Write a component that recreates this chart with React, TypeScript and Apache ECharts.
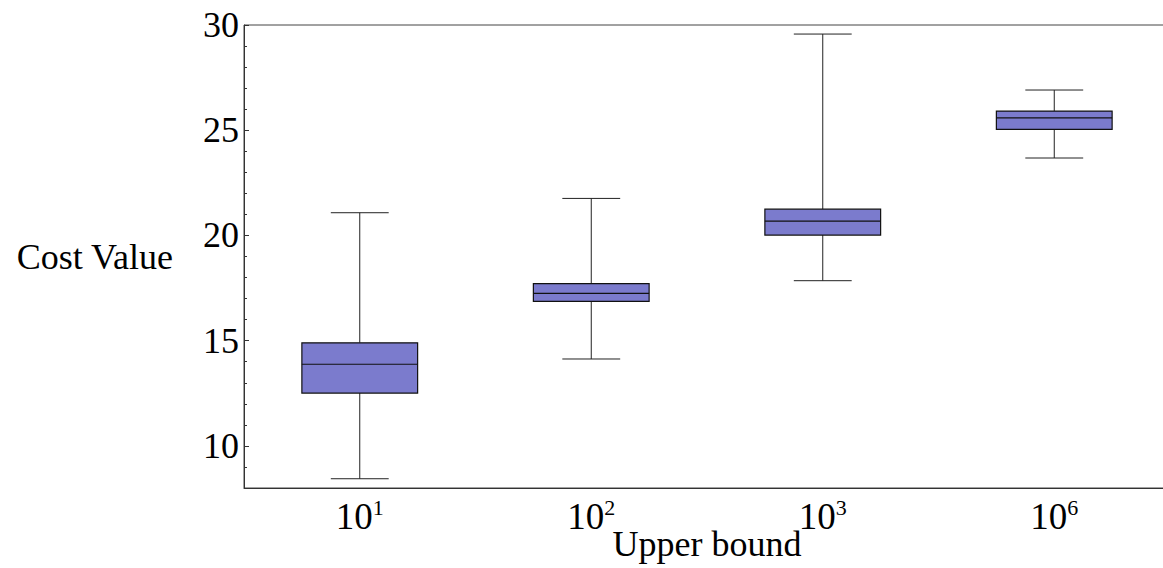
import React, { useEffect, useRef } from "react";
import * as echarts from "echarts";

const categories = ["10^1", "10^2", "10^3", "10^6"];
const exponents = ["1", "2", "3", "6"];
const lowWhisker = [8.44, 14.13, 17.85, 23.68];
const q1 = [12.51, 16.87, 20.02, 25.04];
const median = [13.88, 17.25, 20.68, 25.59];
const q3 = [14.9, 17.71, 21.25, 25.91];
const highWhisker = [21.08, 21.76, 29.57, 26.91];

const FONT = '"Liberation Serif", "Times New Roman", serif';

export default function App() {
  const ref = useRef<HTMLDivElement>(null);
  useEffect(() => {
    if (!ref.current) return;
    const chart = echarts.init(ref.current, undefined, { renderer: "svg" });
    const data = categories.map((_, i) => [i, lowWhisker[i], q1[i], median[i], q3[i], highWhisker[i]]);
    chart.setOption({
      animation: false,
      backgroundColor: "#ffffff",
      grid: {
        left: 244,
        top: 25,
        width: 926,
        height: 463,
        containLabel: false,
        outerBoundsMode: "none",
        show: true,
        borderColor: "#444",
        borderWidth: 1,
        backgroundColor: "transparent",
      },
      xAxis: {
        type: "category",
        data: categories,
        boundaryGap: true,
        name: "Upper bound",
        nameLocation: "middle",
        nameGap: 38,
        nameMoveOverlap: false,
        nameTextStyle: { fontFamily: FONT, fontSize: 36, color: "#000" },
        axisLine: { lineStyle: { color: "#333", width: 1 } },
        axisTick: { inside: true, length: 5, alignWithLabel: true, lineStyle: { color: "#333" } },
        axisLabel: {
          interval: 0,
          hideOverlap: false,
          margin: 8,
          fontFamily: FONT,
          fontSize: 37,
          color: "#000",
          formatter: (_v: string, i: number) => `{base|10}{sup|${exponents[i]}}`,
          rich: {
            base: { fontFamily: FONT, fontSize: 37, color: "#000", lineHeight: 40 },
            sup: { fontFamily: FONT, fontSize: 22, color: "#000", lineHeight: 22, verticalAlign: "top" },
          },
        },
        splitLine: { show: false },
      },
      yAxis: {
        type: "value",
        min: 8,
        max: 30,
        name: "Cost Value",
        nameLocation: "middle",
        nameRotate: 0,
        nameGap: 71,
        nameMoveOverlap: false,
        nameTextStyle: { fontFamily: FONT, fontSize: 36, color: "#000", padding: [0, 0, 8, 0] },
        axisLine: { show: true, lineStyle: { color: "#333", width: 1 } },
        axisTick: { show: true, inside: true, length: 5, lineStyle: { color: "#333" } },
        minorTick: { show: true, splitNumber: 5, length: 3, lineStyle: { color: "#333" } },
        axisLabel: {
          margin: 5,
          showMinLabel: false,
          fontFamily: FONT,
          fontSize: 36,
          color: "#000",
        },
        splitLine: { show: false },
        minorSplitLine: { show: false },
      },
      series: [
        {
          type: "custom",
          data,
          encode: { x: 0, y: [1, 2, 3, 4, 5] },
          renderItem: (_params: any, api: any) => {
            const x = api.value(0);
            const pLow = api.coord([x, api.value(1)]);
            const pQ1 = api.coord([x, api.value(2)]);
            const pMed = api.coord([x, api.value(3)]);
            const pQ3 = api.coord([x, api.value(4)]);
            const pHigh = api.coord([x, api.value(5)]);
            const band = api.size([1, 0])[0];
            const bw = band * 0.5;
            const cw = bw * 0.5;
            const cx = pMed[0];
            const lineStyle = { stroke: "#222", lineWidth: 1 };
            return {
              type: "group",
              children: [
                { type: "line", shape: { x1: cx, y1: pLow[1], x2: cx, y2: pQ1[1] }, style: lineStyle },
                { type: "line", shape: { x1: cx, y1: pQ3[1], x2: cx, y2: pHigh[1] }, style: lineStyle },
                { type: "line", shape: { x1: cx - cw / 2, y1: pLow[1], x2: cx + cw / 2, y2: pLow[1] }, style: lineStyle },
                { type: "line", shape: { x1: cx - cw / 2, y1: pHigh[1], x2: cx + cw / 2, y2: pHigh[1] }, style: lineStyle },
                {
                  type: "rect",
                  shape: { x: cx - bw / 2, y: pQ3[1], width: bw, height: pQ1[1] - pQ3[1] },
                  style: { fill: "#7b7bcd", stroke: "#111", lineWidth: 1.2 },
                },
                { type: "line", shape: { x1: cx - bw / 2, y1: pMed[1], x2: cx + bw / 2, y2: pMed[1] }, style: { stroke: "#111", lineWidth: 1.2 } },
              ],
            };
          },
        },
      ],
    });
    return () => chart.dispose();
  }, []);
  return <div ref={ref} style={{ position: "absolute", left: 0, top: 0, width: 1163, height: 568 }} />;
}
